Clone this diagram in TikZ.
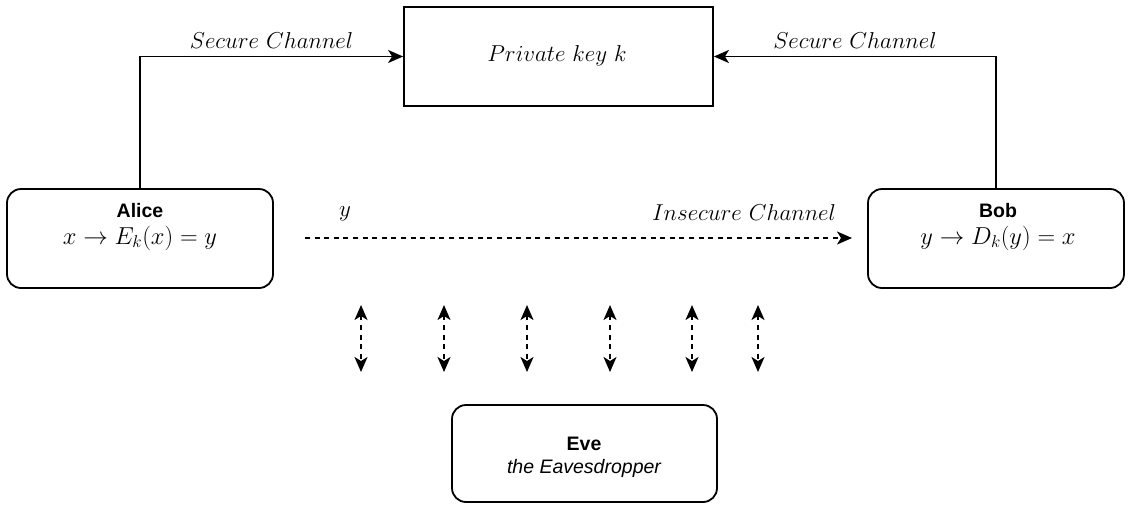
\documentclass[tikz,border=0pt]{standalone}
\usepackage{fix-cm}
\usepackage{fontspec}
\newfontfamily\hv{Liberation Sans}
\usetikzlibrary{arrows.meta}
\begin{document}
\begin{tikzpicture}[x=1pt,y=-1pt,
  line width=1.8pt,
  >={Stealth[length=15pt,width=13pt,inset=4pt]},
  rbox/.style={draw, rectangle, rounded corners=14pt, inner sep=0pt},
  mtxt/.style={inner sep=0pt, font=\fontsize{23}{27}\selectfont},
  ftxt/.style={inner sep=0pt, font=\fontsize{24.5}{29}\selectfont},
  stxt/.style={inner sep=0pt, font=\hv\fontsize{19.5}{23}\selectfont},
  dsh/.style={dash pattern=on 5pt off 4.6pt}
]
\useasboundingbox (0,0) rectangle (1131,504);

% boxes
\node[draw, rectangle, inner sep=0pt, minimum width=309pt, minimum height=99pt] (key) at (558.5,56.5) {};
\node[rbox, minimum width=266pt, minimum height=99pt] (alice) at (140,238.5) {};
\node[rbox, minimum width=256pt, minimum height=99pt] (bob) at (996,238.5) {};
\node[rbox, minimum width=265pt, minimum height=97pt] (eve) at (584.5,453.5) {};

% texts
\node[mtxt] (keytxt) at (557,56) {$Private\ key\ k$};
\node[stxt] (alicename) at (140,211) {\bfseries Alice};
\node[ftxt] (alicef) at (140,238) {$x\rightarrow E_k(x)=y$};
\node[stxt] (bobname) at (998,211) {\bfseries Bob};
\node[ftxt] (bobf) at (998,238) {$y\rightarrow D_k(y)=x$};
\node[stxt] (evename) at (584,444) {\bfseries Eve};
\node[stxt] (evedesc) at (584,468) {\itshape the Eavesdropper};

% secure channels
\draw[->] (alice.north) |- (key.west) node[pos=0.75, above=7pt, mtxt] (sc1) {$Secure\ Channel$};
\draw[->] (bob.north) |- (key.east) node[pos=0.75, above=7pt, mtxt] (sc2) {$Secure\ Channel$};

% insecure channel
\coordinate (ia) at (305,238);
\coordinate (ib) at (852,238);
\draw[->, dsh] (ia) -- (ib);
\node[mtxt] (ylab) at (345,214) {$y$};
\node[mtxt] (inslab) at (744,213) {$Insecure\ Channel$};

% eavesdropping arrows
\foreach \i/\x in {1/361,2/444,3/527,4/610,5/692,6/758} {
  \coordinate (t\i) at (\x,305);
  \coordinate (b\i) at (\x,372);
  \draw[<->, dsh] (t\i) -- (b\i);
}
\end{tikzpicture}
\end{document}
